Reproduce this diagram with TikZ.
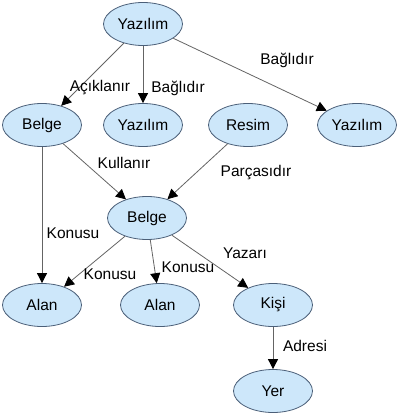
\documentclass[tikz,border=0pt]{standalone}
\usepackage{fontspec}
\setmainfont{Liberation Sans}
\usetikzlibrary{shapes.geometric,arrows.meta}
\definecolor{nodefill}{RGB}{205,231,250}
\definecolor{nodeedge}{RGB}{75,95,120}
\definecolor{edgecol}{RGB}{100,100,100}
\begin{document}
\begin{tikzpicture}[x=1pt,y=-1pt,
  concept/.style={ellipse,draw=nodeedge,line width=0.8pt,fill=nodefill,minimum width=79pt,minimum height=43pt,inner sep=0pt,font=\fontsize{15.5}{17}\selectfont},
  rel/.style={draw=edgecol,line width=0.8pt,-{Triangle[length=10pt,width=10pt,color=black]}},
  lbl/.style={font=\fontsize{15.5}{17}\selectfont,inner sep=0pt}]
\useasboundingbox (0,0) rectangle (400,417);
\node[concept] (y0) at (143,24) {Yazılım};
\node[concept] (b1) at (42,125) {Belge};
\node[concept] (y1) at (143,125) {Yazılım};
\node[concept] (r)  at (248,125) {Resim};
\node[concept] (y2) at (357,125) {Yazılım};
\node[concept] (b2) at (147,218) {Belge};
\node[concept] (a1) at (42,305) {Alan};
\node[concept] (a2) at (160,305) {Alan};
\node[concept] (k)  at (273,305) {Kişi};
\node[concept] (yer) at (273,391) {Yer};
\draw[rel] (y0) -- (b1);
\draw[rel] (y0) -- (y1);
\draw[rel] (y0) -- (y2);
\draw[rel] (b1) -- (a1);
\draw[rel] (b1) -- (b2);
\draw[rel] (r) -- (b2);
\draw[rel] (b2) -- (a1);
\draw[rel] (b2) -- (a2);
\draw[rel] (b2) -- (k);
\draw[rel] (k) -- (yer);
\node[lbl] (l1) at (100,88) {Açıklanır};
\node[lbl] (l2) at (178,88) {Bağlıdır};
\node[lbl] (l3) at (287,60) {Bağlıdır};
\node[lbl] (l4) at (73,233) {Konusu};
\node[lbl] (l5) at (124,163) {Kullanır};
\node[lbl] (l6) at (256,173) {Parçasıdır};
\node[lbl] (l7) at (110,274) {Konusu};
\node[lbl] (l8) at (188,267) {Konusu};
\node[lbl] (l9) at (245,253) {Yazarı};
\node[lbl] (l10) at (305,346) {Adresi};
\end{tikzpicture}
\end{document}
